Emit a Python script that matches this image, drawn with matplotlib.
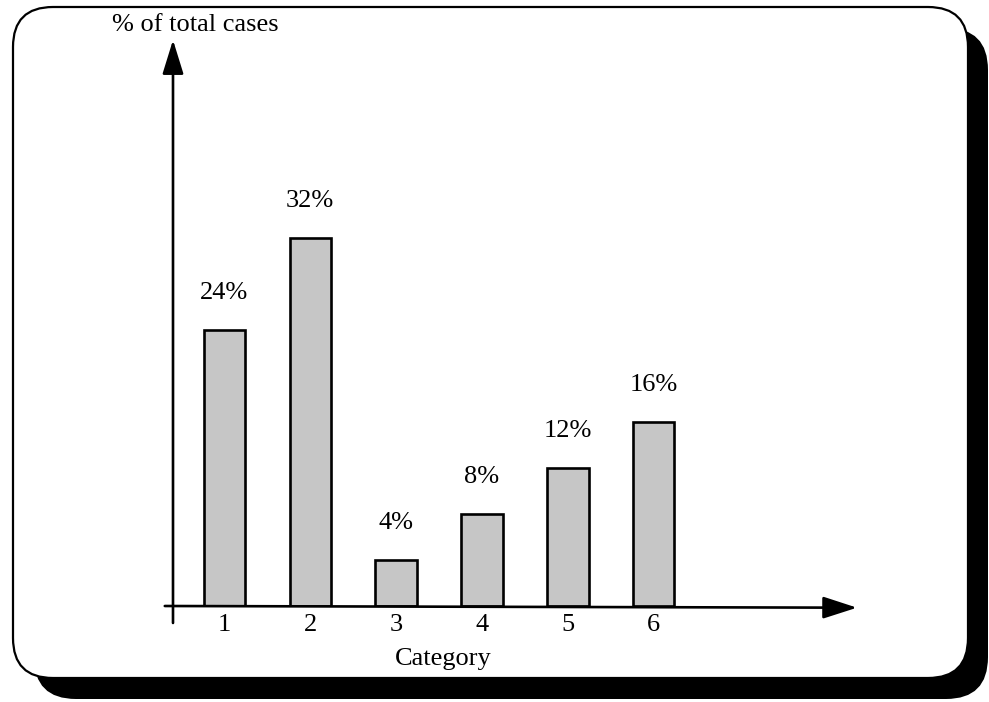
import matplotlib
matplotlib.use("Agg")
import matplotlib.pyplot as plt
from matplotlib.patches import FancyBboxPatch, FancyArrowPatch

categories = ["1", "2", "3", "4", "5", "6"]
values = [24, 32, 4, 8, 12, 16]
value_labels = ["24%", "32%", "4%", "8%", "12%", "16%"]
y_label = "% of total cases"
x_label = "Category"

plt.rcParams['font.family'] = ['Liberation Serif', 'DejaVu Serif']

W, H = 989, 702
fig = plt.figure(figsize=(W / 100, H / 100), dpi=100)
fig.patch.set_facecolor("white")

# background frame in pixel coordinates
bg = fig.add_axes([0, 0, 1, 1])
bg.set_xlim(0, W)
bg.set_ylim(H, 0)
bg.axis("off")
bg.add_patch(FancyBboxPatch((34, 28), 954, 671,
                            boxstyle="round,pad=0,rounding_size=42",
                            facecolor="black", edgecolor="black", lw=0))
bg.add_patch(FancyBboxPatch((13, 7), 955, 671,
                            boxstyle="round,pad=0,rounding_size=40",
                            facecolor="white", edgecolor="black", lw=1.6))

# data axes: pixel x 173..857, y 606(bottom)..40(top)
L, R, T, B = 173, 857, 40, 606
ax = fig.add_axes([L / W, (H - B) / H, (R - L) / W, (B - T) / H])
ax.patch.set_alpha(0)
ax.axis("off")
step = 85.9
x0 = 224.3
ax.set_xlim(1 + (L - x0) / step, 1 + (R - x0) / step)
ax.set_ylim(0, (B - T) / 11.5)

xs = list(range(1, len(categories) + 1))
bars = ax.bar(xs, values, width=0.48, color="#c6c6c6", edgecolor="black",
              linewidth=1.9, zorder=3)
for x, v, lab in zip(xs, values, value_labels):
    ax.annotate(lab, (x, v), xytext=(0, 19), textcoords="offset points",
                ha="center", va="bottom", fontsize=19, zorder=4)
for x, c in zip(xs, categories):
    ax.annotate(c, (x, 0), xytext=(0, -6), textcoords="offset points",
                ha="center", va="top", fontsize=19)

# axes with arrows
tr = ax.transAxes
ax.add_patch(FancyArrowPatch((-0.012, 0), (1.0, -0.003), transform=tr,
                             arrowstyle="-|>,head_length=21,head_width=6.8",
                             mutation_scale=1, lw=1.9, color="black",
                             shrinkA=0, shrinkB=0, clip_on=False, zorder=5))
ax.add_patch(FancyArrowPatch((0, -0.03), (0, 1.0), transform=tr,
                             arrowstyle="-|>,head_length=21,head_width=6.5",
                             mutation_scale=1, lw=1.9, color="black",
                             shrinkA=0, shrinkB=0, clip_on=False, zorder=5))

fig.text(195 / W, 1 - 25 / H, y_label, ha="center", va="center", fontsize=19)
fig.text(443 / W, 1 - 659 / H, x_label, ha="center", va="center", fontsize=19)

fig.savefig("out.png", dpi=100)
